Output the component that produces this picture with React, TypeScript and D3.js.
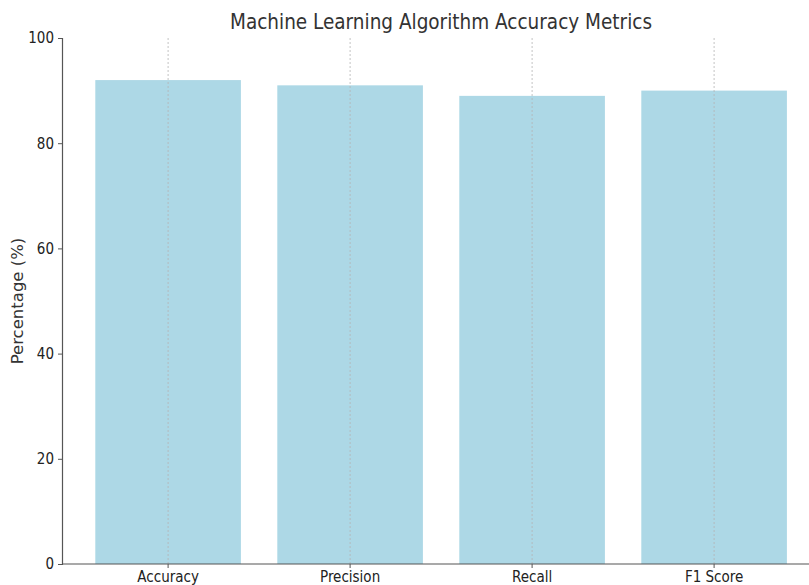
import React, { useRef, useEffect } from 'react';
import * as d3 from 'd3';

const metrics = ['Accuracy', 'Precision', 'Recall', 'F1 Score'];
const scores = [92, 91, 89, 90];
const yTicks = [0, 20, 40, 60, 80, 100];

const W = 809;
const H = 585;
const FONT = '"DejaVu Sans Condensed", "DejaVu Sans", sans-serif';

const App: React.FC = () => {
    const svgRef = useRef<SVGSVGElement | null>(null);

    useEffect(() => {
        const svg = d3.select(svgRef.current);
        svg.selectAll('*').remove();

        // plot area (right side runs off the canvas like the original)
        const left = 62;
        const top = 38;
        const bottom = 564;

        // index scale: category i sits at i, xlim roughly [-0.58, 3.6]
        const x = d3.scaleLinear().domain([-0.583, 3.6]).range([left, left + 4.183 * 182]);
        const y = d3.scaleLinear().domain([0, 100]).range([bottom, top]);
        const barW = 0.8;

        svg.append('g')
            .selectAll('rect')
            .data(scores)
            .enter().append('rect')
            .attr('x', (_, i) => x(i - barW / 2))
            .attr('y', d => y(d))
            .attr('width', x(barW) - x(0))
            .attr('height', d => y(0) - y(d))
            .attr('fill', '#add8e6');

        // dotted vertical grid at each category
        svg.append('g')
            .selectAll('line')
            .data(metrics)
            .enter().append('line')
            .attr('x1', (_, i) => x(i))
            .attr('x2', (_, i) => x(i))
            .attr('y1', top)
            .attr('y2', bottom)
            .attr('stroke', '#b4b4b4')
            .attr('stroke-width', 0.8)
            .attr('stroke-dasharray', '2,2');

        // y axis
        const yAxis = d3.axisLeft(y).tickValues(yTicks).tickSize(4).tickPadding(4);
        const gy = svg.append('g').attr('transform', `translate(${left},0)`).call(yAxis);
        gy.select('.domain').attr('stroke', '#555').attr('stroke-width', 1.2);
        gy.selectAll('.tick line').attr('stroke', '#555');
        gy.selectAll('.tick text')
            .attr('fill', '#222')
            .style('font-family', FONT)
            .style('font-size', '15px');

        // x axis
        const gx = svg.append('g').attr('transform', `translate(0,${bottom})`);
        gx.append('line')
            .attr('x1', left).attr('x2', W)
            .attr('y1', 0).attr('y2', 0)
            .attr('stroke', '#555').attr('stroke-width', 1.2);
        const ticks = gx.selectAll('g.tick')
            .data(metrics)
            .enter().append('g')
            .attr('class', 'tick')
            .attr('transform', (_, i) => `translate(${x(i)},0)`);
        ticks.append('line').attr('y2', 4).attr('stroke', '#555');
        ticks.append('text')
            .attr('y', 18)
            .attr('text-anchor', 'middle')
            .attr('fill', '#222')
            .style('font-family', FONT)
            .style('font-size', '15px')
            .text(d => d);

        // labels
        svg.append('text')
            .attr('x', 441)
            .attr('y', 29)
            .attr('text-anchor', 'middle')
            .attr('fill', '#333')
            .style('font-family', FONT)
            .style('font-size', '20.5px')
            .text('Machine Learning Algorithm Accuracy Metrics');

        svg.append('text')
            .attr('transform', `translate(23,${(top + bottom) / 2}) rotate(-90)`)
            .attr('text-anchor', 'middle')
            .attr('fill', '#333')
            .style('font-family', '"DejaVu Sans", sans-serif')
            .style('font-size', '16.5px')
            .text('Percentage (%)');
    }, []);

    return <svg ref={svgRef} width={W} height={H} style={{ position: 'absolute', left: 0, top: 0 }} />;
};

export default App;
